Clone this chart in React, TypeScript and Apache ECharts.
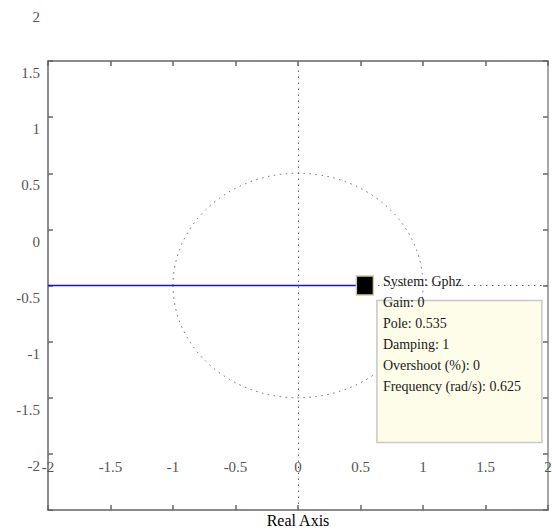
import React, { useEffect, useRef } from "react";
import * as echarts from "echarts";

// Axis setup
const axisMin = -2;
const axisMax = 2;
const tickStep = 0.5;

// Root locus branch along the real axis (from left edge to the open-loop pole)
const locusBranch: [number, number][] = [[-2, 0], [0.535, 0]];
// Selected pole (data tip)
const selectedPole: [number, number] = [0.535, 0];
// Natural-frequency grid circle radius
const gridRadii = [1];
// Data tip lines
const tipLines = [
  "System: Gphz",
  "Gain: 0",
  "Pole: 0.535",
  "Damping: 1",
  "Overshoot (%): 0",
  "Frequency (rad/s): 0.625",
];

const FONT = "'Liberation Serif', 'DejaVu Serif', serif";
const AXIS_COLOR = "#666666";
const DOT = [1.5, 4.5];
// tick labels of the reference are drawn 44px above their ticks
const LABEL_SHIFT = 44;

export default function App() {
  const ref = useRef<HTMLDivElement>(null);

  useEffect(() => {
    if (!ref.current) return;
    const chart = echarts.init(ref.current, null, { renderer: "svg" });

    const baseAxis = {
      type: "value" as const,
      min: axisMin,
      max: axisMax,
      interval: tickStep,
      splitLine: { show: false },
      axisLine: { show: true, onZero: false, lineStyle: { color: AXIS_COLOR, width: 1.5 } },
      axisTick: { show: true, inside: true, length: 5, lineStyle: { color: AXIS_COLOR, width: 1.5 } },
    };
    const hiddenAxis = {
      type: "value" as const,
      min: axisMin,
      max: axisMax,
      interval: tickStep,
      splitLine: { show: false },
      axisLine: { show: false },
      axisTick: { show: false },
    };

    chart.setOption({
      animation: false,
      grid: [
        { left: 48, right: 4, top: 61, bottom: 20, containLabel: false, outerBoundsMode: "none" },
        {
          left: 48,
          right: 4,
          top: 61 - LABEL_SHIFT,
          bottom: 20 + LABEL_SHIFT,
          containLabel: false,
          outerBoundsMode: "none",
        },
      ],
      xAxis: [
        {
          ...baseAxis,
          gridIndex: 0,
          position: "bottom",
          name: "Real Axis",
          nameLocation: "middle",
          nameGap: 2,
          nameMoveOverlap: false,
          nameTextStyle: { fontFamily: FONT, fontSize: 16, color: "#000", verticalAlign: "top" },
          axisLabel: {
            show: true,
            margin: -43,
            verticalAlign: "middle",
            fontFamily: FONT,
            fontSize: 15,
            color: "#555555",
            showMinLabel: true,
            showMaxLabel: true,
          },
        },
        {
          ...baseAxis,
          gridIndex: 0,
          position: "top",
          axisLabel: { show: false },
        },
        {
          ...hiddenAxis,
          gridIndex: 1,
          position: "bottom",
          axisLabel: { show: false },
        },
      ],
      yAxis: [
        {
          ...baseAxis,
          gridIndex: 0,
          position: "left",
          axisLabel: { show: false },
        },
        {
          ...baseAxis,
          gridIndex: 0,
          position: "right",
          axisLine: { show: true, onZero: false, lineStyle: { color: "#8a8a8a", width: 1.5 } },
          axisLabel: { show: false },
        },
        {
          ...hiddenAxis,
          gridIndex: 1,
          position: "left",
          axisLabel: {
            show: true,
            margin: 8,
            verticalAlign: "middle",
            fontFamily: FONT,
            fontSize: 15,
            color: "#555555",
            showMinLabel: true,
            showMaxLabel: true,
          },
        },
      ],
      series: [
        {
          type: "custom",
          xAxisIndex: 0,
          yAxisIndex: 0,
          silent: true,
          z: 1,
          data: gridRadii.map((r) => [r]),
          renderItem: (params: any, api: any) => {
            const r = api.value(0);
            const c = api.coord([0, 0]);
            const e = api.coord([r, 0]);
            const t = api.coord([0, r]);
            const rx = e[0] - c[0];
            const ry = c[1] - t[1];
            const d = `M ${c[0] - rx} ${c[1]} A ${rx} ${ry} 0 1 1 ${c[0] + rx} ${c[1]} A ${rx} ${ry} 0 1 1 ${c[0] - rx} ${c[1]} Z`;
            return {
              type: "path",
              shape: { pathData: d },
              style: { fill: "none", stroke: AXIS_COLOR, lineWidth: 1, lineDash: DOT },
            };
          },
          markLine: {
            silent: true,
            symbol: "none",
            z: 1,
            label: { show: false },
            lineStyle: { color: AXIS_COLOR, width: 1, type: DOT },
            data: [{ xAxis: 0 }, { yAxis: 0 }],
          },
        },
        {
          type: "line",
          xAxisIndex: 0,
          yAxisIndex: 0,
          data: locusBranch,
          showSymbol: false,
          symbol: "none",
          z: 3,
          lineStyle: { color: "#1414e0", width: 1.5 },
        },
        {
          type: "scatter",
          xAxisIndex: 0,
          yAxisIndex: 0,
          data: [selectedPole],
          symbol: "rect",
          symbolSize: [17, 19],
          z: 9,
          itemStyle: { color: "#000000", borderColor: "#cfcb9c", borderWidth: 1.5, opacity: 1 },
        },
      ],
    });

    const p = chart.convertToPixel({ xAxisIndex: 0, yAxisIndex: 0 }, selectedPole) as number[];
    const px = p[0];
    const py = p[1];
    chart.setOption({
      graphic: [
        {
          type: "rect",
          z: 10,
          shape: { x: px + 12, y: py + 15, width: 165, height: 142 },
          style: { fill: "#fdfdea", stroke: "#c9c9c2", lineWidth: 1.5 },
        },
        ...tipLines.map((line, i) => ({
          type: "text",
          z: 11,
          x: px + 18,
          y: py - 4 + i * 20.9,
          style: {
            text: line,
            fill: "#1a1a1a",
            font: `14px ${FONT}`,
            textAlign: "left",
            textVerticalAlign: "middle",
            verticalAlign: "middle",
          },
        })),
      ],
    });

    return () => chart.dispose();
  }, []);

  return (
    <div
      ref={ref}
      style={{ position: "fixed", left: 0, top: 0, width: 552, height: 530, background: "#fff" }}
    />
  );
}
